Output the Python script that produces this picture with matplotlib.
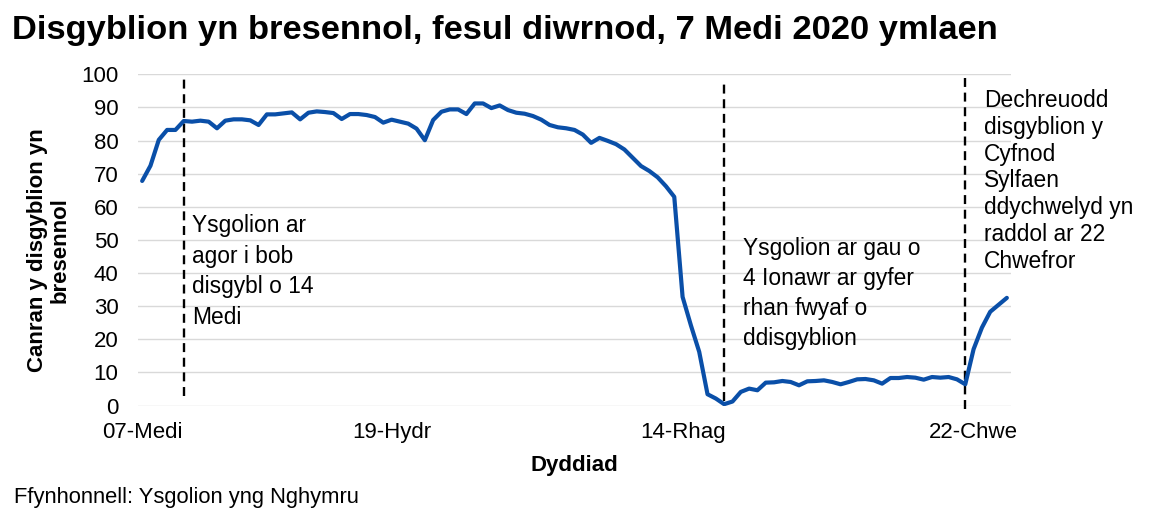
import matplotlib
matplotlib.use("Agg")
import matplotlib.pyplot as plt

plt.rcParams['font.family'] = ['Liberation Sans', 'DejaVu Sans']

# canran y disgyblion yn bresennol, un pwynt i bob diwrnod ysgol
presenoldeb = [
    67.8, 72.4, 80.2, 83.2, 83.2, 85.9, 85.7, 86.0, 85.7, 83.7,
    86.0, 86.4, 86.4, 86.1, 84.7, 87.9, 87.9, 88.2, 88.5, 86.4,
    88.4, 88.8, 88.6, 88.3, 86.5, 88.0, 88.0, 87.7, 87.1, 85.4,
    86.3, 85.7, 85.1, 83.6, 80.1, 86.2, 88.7, 89.4, 89.4, 88.0,
    91.2, 91.2, 89.8, 90.6, 89.2, 88.4, 88.1, 87.4, 86.3, 84.7,
    84.0, 83.7, 83.2, 81.8, 79.3, 80.8, 79.9, 78.9, 77.3, 74.8,
    72.3, 70.8, 68.9, 66.2, 63.0, 32.8, 24.2, 16.2, 3.4, 2.1,
    0.4, 1.2, 4.1, 5.1, 4.6, 6.9, 7.0, 7.4, 7.1, 6.1,
    7.3, 7.4, 7.6, 7.1, 6.4, 7.1, 7.9, 8.0, 7.6, 6.6,
    8.3, 8.3, 8.6, 8.4, 7.8, 8.6, 8.4, 8.6, 7.9, 6.4,
    17.0, 23.5, 28.3, 30.4, 32.5,
]
diwrnod = list(range(len(presenoldeb)))

tick_pos = [0, 30, 65, 100]
tick_labels = ['07-Medi', '19-Hydr', '14-Rhag', '22-Chwe']

# llinellau digwyddiadau (mynegai diwrnod ysgol)
event_pos = [5, 70, 99]
event_text = [
    ['Ysgolion ar', 'agor i bob', 'disgybl o 14', 'Medi'],
    ['Ysgolion ar gau o', '4 Ionawr ar gyfer', 'rhan fwyaf o', 'ddisgyblion'],
    ['Dechreuodd', 'disgyblion y', 'Cyfnod', 'Sylfaen', 'ddychwelyd yn',
     'raddol ar 22', 'Chwefror'],
]

W, H = 1149, 520


def fx(px):
    return px / W


def fy(py):
    return 1 - py / H


fig = plt.figure(figsize=(W / 100, H / 100), dpi=100)
ax = fig.add_axes([fx(138), fy(405.5), fx(1011) - fx(138), fy(74.3) - fy(405.5)])

ax.plot(diwrnod, presenoldeb, color='#0a4fa8', lw=3.0, solid_joinstyle='round',
        solid_capstyle='round', zorder=3)

ax.set_xlim(-0.5, len(presenoldeb) - 0.5)
ax.set_ylim(0, 100)
ax.set_yticks(range(0, 101, 10))
ax.set_xticks(tick_pos)
ax.set_xticklabels(tick_labels)
ax.tick_params(axis='both', length=0, labelsize=16, colors='black')
ax.tick_params(axis='y', pad=14)
ax.tick_params(axis='x', pad=12)
ax.grid(axis='y', color='#d9d9d9', lw=1)
ax.set_axisbelow(True)
for s in ax.spines.values():
    s.set_visible(False)

# llinellau toredig
ext = [(0.03, 0.99), (0.015, 0.98), (-0.01, 0.99)]
for p, (y0, y1) in zip(event_pos, ext):
    ax.axvline(p, ymin=y0, ymax=y1, color='black', lw=1.7,
               linestyle=(0, (3.8, 2.4)), clip_on=False, zorder=2)

# testun
ann_layout = [(191.7, 232.3, 30.6), (742.7, 255.0, 30.0), (984.3, 107.3, 26.7)]
for lines, (x0, y0, pitch) in zip(event_text, ann_layout):
    for i, t in enumerate(lines):
        fig.text(fx(x0), fy(y0 + i * pitch), t, fontsize=16.4, va='baseline', ha='left')

fig.text(fx(12), fy(39), 'Disgyblion yn bresennol, fesul diwrnod, 7 Medi 2020 ymlaen',
         fontsize=24.8, fontweight='bold', va='baseline', ha='left')

fig.text(fx(48.5), fy(250), 'Canran y disgyblion yn\nbresennol', rotation=90,
         fontsize=16, fontweight='bold', ha='center', va='center',
         multialignment='center', linespacing=1.1)

fig.text(fx(574), fy(465), 'Dyddiad', fontsize=16, fontweight='bold',
         ha='center', va='center')

fig.text(fx(14), fy(497), 'Ffynhonnell: Ysgolion yng Nghymru', fontsize=15.8,
         ha='left', va='center')

fig.savefig('out.png', dpi=100)
